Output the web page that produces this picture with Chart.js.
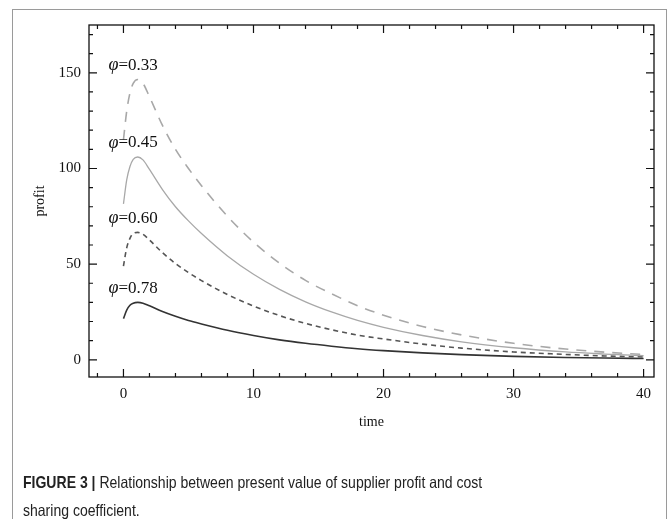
<!DOCTYPE html>
<html>
<head>
<meta charset="utf-8">
<script src="https://cdn.jsdelivr.net/npm/chart.js@4.4.1/dist/chart.umd.min.js"></script>
<style>
  body { margin: 0; background: #fff; }
  #frame { position: absolute; left: 12px; top: 9px; width: 653px; height: 530px; border: 1px solid #9a9a9a; }
  #chart { position: absolute; left: 0; top: 0; }
  #caption { position: absolute; left: 23px; top: 468px; width: 585px; font-family: "Liberation Sans", Arial, sans-serif;
    font-size: 16.5px; line-height: 28px; color: #222; transform: scaleX(0.85); transform-origin: left top; }
  #caption b { font-weight: bold; }
</style>
</head>
<body>
<div id="frame"></div>
<canvas id="chart" width="669" height="519"></canvas>
<div id="caption"><b>FIGURE 3 |</b> Relationship between present value of supplier profit and cost sharing coefficient.</div>
<script>
// time points and profit curves
const times = [0, 0.25, 0.5, 0.75, 1.1, 1.5, 2, 3, 4, 5, 6, 8, 10, 12, 14, 16, 18, 20, 23, 26, 30, 34, 37, 40];
const phi033 = [115, 130, 139.5, 144.5, 146.5, 144.5, 137.5, 122.5, 110, 100, 91, 75, 61.5, 50.5, 41.5, 34.5, 28.3, 23.3, 17.4, 13, 8.6, 5.6, 4, 2.8];
const phi045 = [81.5, 94, 101, 104.8, 106, 104.5, 99.5, 89, 80, 72.6, 66, 54.3, 44.7, 36.8, 30.3, 25, 20.6, 17, 12.7, 9.4, 6.3, 4.1, 3, 2.1];
const phi060 = [49, 58.5, 63.5, 66, 66.6, 65.6, 62.6, 56, 50.3, 45.6, 41.4, 34.1, 28.1, 23.1, 19, 15.7, 12.9, 10.9, 8.2, 6.1, 4.1, 2.8, 2, 1.5];
const phi078 = [21.5, 26, 28.5, 29.6, 30, 29.6, 28.2, 25.2, 22.7, 20.5, 18.7, 15.4, 12.7, 10.4, 8.6, 7.1, 5.8, 4.8, 3.6, 2.7, 1.8, 1.2, 0.9, 0.7];
const seriesNames = ['0.33', '0.45', '0.60', '0.78'];
const xTicks = [0, 10, 20, 30, 40];
const yTicks = [0, 50, 100, 150];

const toPts = vals => vals.map((v, i) => ({ x: times[i], y: v }));

const serif = '"Liberation Serif", "Times New Roman", serif';

const frameTicks = {
  id: 'frameTicks',
  afterDraw(chart) {
    const { ctx, chartArea: a, scales: { x, y } } = chart;
    ctx.save();
    ctx.strokeStyle = '#111';
    ctx.lineWidth = 1.3;
    ctx.strokeRect(a.left, a.top, a.right - a.left, a.bottom - a.top);
    ctx.lineWidth = 1.2;
    ctx.beginPath();
    for (let t = -2; t <= 40; t += 2) {
      const px = x.getPixelForValue(t);
      const len = t % 10 === 0 ? 8 : 4;
      ctx.moveTo(px, a.bottom); ctx.lineTo(px, a.bottom - len);
      ctx.moveTo(px, a.top); ctx.lineTo(px, a.top + len);
    }
    for (let v = 0; v <= 170; v += 10) {
      const py = y.getPixelForValue(v);
      const len = v % 50 === 0 ? 8 : 4;
      ctx.moveTo(a.left, py); ctx.lineTo(a.left + len, py);
      ctx.moveTo(a.right, py); ctx.lineTo(a.right - len, py);
    }
    ctx.stroke();

    // curve labels above each peak
    chart.data.datasets.forEach((ds, i) => {
      const peak = Math.max(...ds.data.map(p => p.y));
      const lx = x.getPixelForValue(-1.15);
      const ly = y.getPixelForValue(peak) - 14;
      ctx.fillStyle = '#111';
      ctx.textBaseline = 'middle';
      ctx.textAlign = 'left';
      ctx.font = 'italic 18px ' + serif;
      ctx.fillText('φ', lx, ly);
      const w = ctx.measureText('φ').width;
      ctx.font = '17px ' + serif;
      ctx.fillText('=' + seriesNames[i], lx + w, ly);
    });
    ctx.restore();
  }
};

new Chart(document.getElementById('chart').getContext('2d'), {
  type: 'line',
  data: {
    datasets: [
      { label: 'φ=0.33', data: toPts(phi033), borderColor: '#a8a8a8', borderWidth: 1.6, borderDash: [10, 8] },
      { label: 'φ=0.45', data: toPts(phi045), borderColor: '#a8a8a8', borderWidth: 1.3 },
      { label: 'φ=0.60', data: toPts(phi060), borderColor: '#555', borderWidth: 1.6, borderDash: [5, 4] },
      { label: 'φ=0.78', data: toPts(phi078), borderColor: '#333', borderWidth: 1.6 }
    ]
  },
  options: {
    responsive: false,
    animation: false,
    devicePixelRatio: 1,
    layout: { padding: { left: 20, right: 15, top: 25, bottom: 79 } },
    elements: { point: { radius: 0 }, line: { cubicInterpolationMode: 'monotone', fill: false } },
    plugins: { legend: { display: false }, tooltip: { enabled: false } },
    scales: {
      x: {
        type: 'linear', min: -2.65, max: 40.8,
        afterBuildTicks: s => { s.ticks = xTicks.map(v => ({ value: v })); },
        afterFit: s => { s.height = 63; },
        grid: { display: false, drawTicks: false },
        border: { display: false },
        ticks: { color: '#111', padding: 8, maxRotation: 0, font: { family: serif, size: 15 } },
        title: { display: true, text: 'time', color: '#111', font: { family: serif, size: 14 }, padding: { bottom: 9 } }
      },
      y: {
        type: 'linear', min: -9, max: 175,
        afterBuildTicks: s => { s.ticks = yTicks.map(v => ({ value: v })); },
        afterFit: s => { s.width = 69; },
        grid: { display: false, drawTicks: false },
        border: { display: false },
        ticks: { color: '#111', padding: 8, font: { family: serif, size: 15 } },
        title: { display: true, text: 'profit', color: '#111', font: { family: serif, size: 14 }, padding: { top: 12 } }
      }
    }
  },
  plugins: [frameTicks]
});
</script>
</body>
</html>
